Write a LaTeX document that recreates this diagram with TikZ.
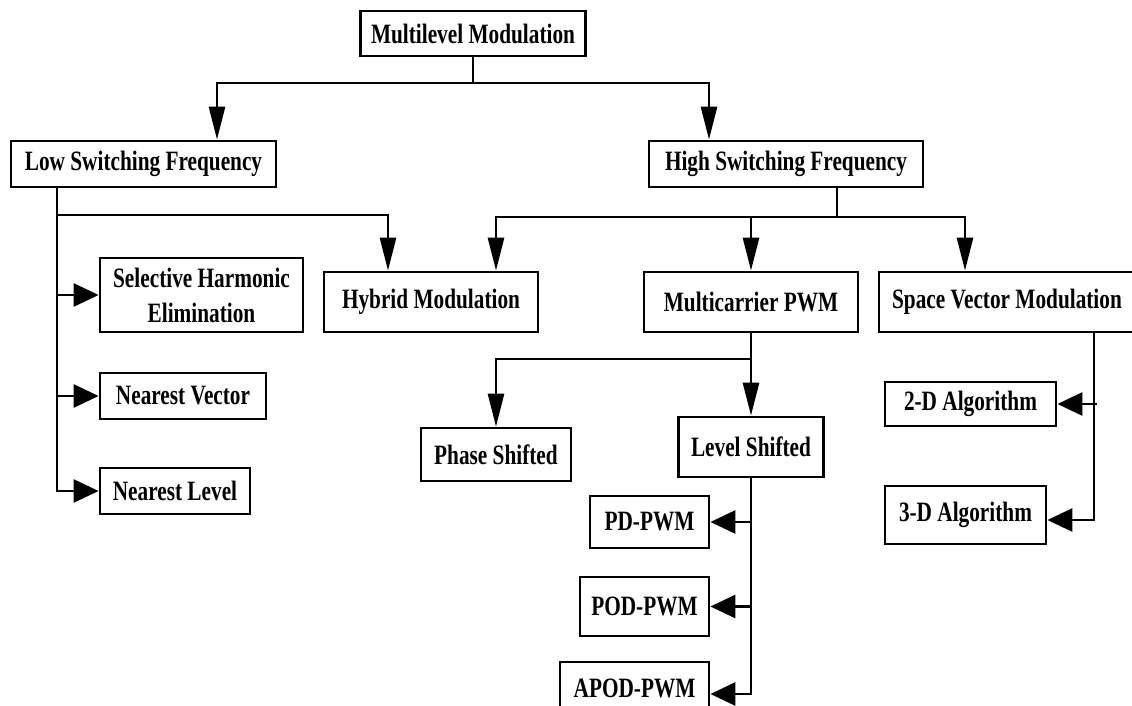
\documentclass[tikz,border=0pt]{standalone}
\usepackage{fontspec}
\setmainfont{Liberation Serif}[FakeStretch=0.76]
\usetikzlibrary{arrows.meta}

\begin{document}
\begin{tikzpicture}[x=1pt, y=-1pt]

    \tikzstyle{box} = [rectangle, draw=black, line width=2.8pt, inner sep=0pt, text centered, align=center, font=\fontsize{28}{35}\selectfont\bfseries]
    \tikzstyle{plain_line} = [line width=2.8pt]
    \tikzstyle{arrow} = [line width=2.8pt, -{Triangle[length=33pt, width=16pt]}]
    \tikzstyle{harrow} = [line width=2.8pt, -{Triangle[length=25pt, width=23pt]}]

    \useasboundingbox (0,0) rectangle (1132,706);
    \clip (0,0) rectangle (1132,706);

            % node[Optionen](Name){Inhalt}
            \node (Multilevel_Modulation) [box, minimum width=225, minimum height=45] at (473,33.5) {Multilevel Modulation};

            \node (Low_Switching) [box, minimum width=265, minimum height=46] at (143.5,164) {Low Switching Frequency};
            \node (High_Switching) [box, minimum width=274, minimum height=46] at (786,164) {High Switching Frequency};

            \node (Selective_Harmonic) [box, minimum width=203, minimum height=74] at (201.5,295) {Selective Harmonic\\Elimination};
            \node (Nearest_Vector) [box, minimum width=166, minimum height=46] at (183,396) {Nearest Vector};
            \node (Nearest_Level) [box, minimum width=150, minimum height=46] at (175,491) {Nearest Level};

            \node (Hybrid) [box, minimum width=214, minimum height=60] at (431,302) {Hybrid Modulation};
            \node (Multicarrier) [box, minimum width=214, minimum height=60] at (751,302) {Multicarrier PWM};
            \node (Space_Vector) [box, minimum width=256, minimum height=60] at (1007,302) {Space Vector Modulation};

            \node (Phase_Shifted) [box, minimum width=150, minimum height=53] at (496,454.5) {Phase Shifted};
            \node (Level_Shifted) [box, minimum width=145, minimum height=60] at (751,447) {Level Shifted};

            \node (PD_PWM) [box, minimum width=119, minimum height=52] at (649.5,522) {PD-PWM};
            \node (POD_PWM) [box, minimum width=129, minimum height=59] at (644.5,606.5) {POD-PWM};
            \node (APOD_PWM) [box, minimum width=149, minimum height=52] at (634.5,688) {APOD-PWM};

            \node (Algorithm2D) [box, minimum width=171, minimum height=44] at (970.5,404) {2-D Algorithm};
            \node (Algorithm3D) [box, minimum width=161, minimum height=58] at (965.5,515) {3-D Algorithm};

            % ----- ----- ----- ----- ----- ----- ----- ----- ----- ----- ----- -----

            \coordinate (Top_Bus) at (473,83);
            \coordinate (Low_Bus) at (57,215);
            \coordinate (High_Bus) at (837,217);
            \coordinate (Carrier_Bus) at (751,359);
            \coordinate (Vector_Line) at (1094,0);

            \draw [plain_line] (Multilevel_Modulation) -- (Top_Bus);
            \draw [arrow] (Top_Bus) -| (Low_Switching.north -| 217,0);
            \draw [arrow] (Top_Bus) -| (High_Switching.north -| 709,0);

            \draw [harrow] (Low_Switching.south -| Low_Bus) |- (Nearest_Level.west);
            \draw [harrow] (Low_Bus |- Selective_Harmonic.west) -- (Selective_Harmonic.west);
            \draw [harrow] (Low_Bus |- Nearest_Vector.west) -- (Nearest_Vector.west);
            \draw [arrow] (Low_Bus) -| (Hybrid.north -| 388,0);

            \draw [plain_line] (High_Switching.south -| High_Bus) -- (High_Bus);
            \draw [arrow] (High_Bus) -| (Hybrid.north -| 496,0);
            \draw [arrow] (High_Bus) -| (Space_Vector.north -| 965,0);
            \draw [arrow] (High_Bus -| Multicarrier.north) -- (Multicarrier.north);

            \draw [arrow] (Multicarrier) -- (Level_Shifted);
            \draw [arrow] (Carrier_Bus) -| (Phase_Shifted.north);

            \draw [harrow] (Level_Shifted.south) |- (APOD_PWM.east |- 0,694);
            \draw [harrow] (Level_Shifted.south |- PD_PWM.east) -- (PD_PWM.east);
            \draw [harrow] (Level_Shifted.south |- POD_PWM.east) -- (POD_PWM.east);

            \draw [harrow] (Space_Vector.south -| Vector_Line) |- (Algorithm3D.east |- 0,520);
            \draw [harrow] (Algorithm2D.east -| 1097,0) -- (Algorithm2D.east);
\end{tikzpicture}
\end{document}
